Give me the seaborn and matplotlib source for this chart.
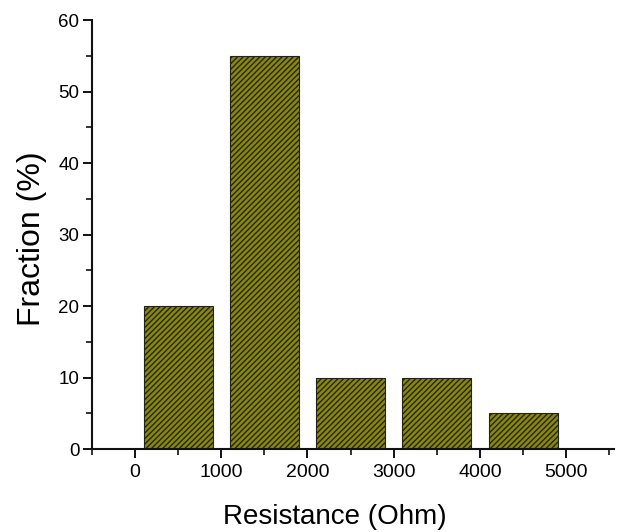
import matplotlib
matplotlib.use("Agg")
import matplotlib.pyplot as plt
import seaborn as sns
import pandas as pd
from matplotlib.ticker import MultipleLocator

resistance = [500, 1500, 2500, 3500, 4500]
fraction = [20, 55, 10, 10, 5]
x_ticks = [0, 1000, 2000, 3000, 4000, 5000]
y_ticks = [0, 10, 20, 30, 40, 50, 60]

sns.set_style("ticks")
plt.rcParams['font.family'] = ['Liberation Sans', 'DejaVu Sans']
plt.rcParams['hatch.linewidth'] = 1.0
plt.rcParams['hatch.color'] = '#1a1a00'

df = pd.DataFrame({"Resistance": resistance, "Fraction": fraction})

fig = plt.figure(figsize=(6.2, 5.32), dpi=100)
ax = fig.add_axes([0.148, 0.156, 0.842, 0.806])

sns.barplot(data=df, x="Resistance", y="Fraction", native_scale=True, width=0.8,
            color="#8a8a00", saturation=1, edgecolor="#222222", linewidth=0.8,
            hatch="//////", ax=ax)

ax.set_xlim(-500, 5550)
ax.set_ylim(0, 60)
ax.set_xticks(x_ticks)
ax.set_yticks(y_ticks)
ax.xaxis.set_minor_locator(MultipleLocator(500))
ax.yaxis.set_minor_locator(MultipleLocator(5))
ax.tick_params(which='major', direction='out', length=6.5, width=1.4,
               color='#111111', labelcolor='#000000')
ax.tick_params(axis='x', which='major', labelsize=14, pad=4)
ax.tick_params(axis='y', which='major', labelsize=13.5, pad=2.5)
ax.tick_params(which='minor', direction='out', length=4, width=1.2, color='#111111')
ax.set_xlabel("Resistance (Ohm)", fontsize=20, labelpad=17, color='#000000', x=0.465)
ax.set_ylabel("Fraction (%)", fontsize=23, labelpad=8, color='#000000', y=0.49)
for s in ['top', 'right']:
    ax.spines[s].set_visible(False)
for s in ['left', 'bottom']:
    ax.spines[s].set_linewidth(1.5)
    ax.spines[s].set_color('#111111')

fig.savefig("out.png", dpi=100)
